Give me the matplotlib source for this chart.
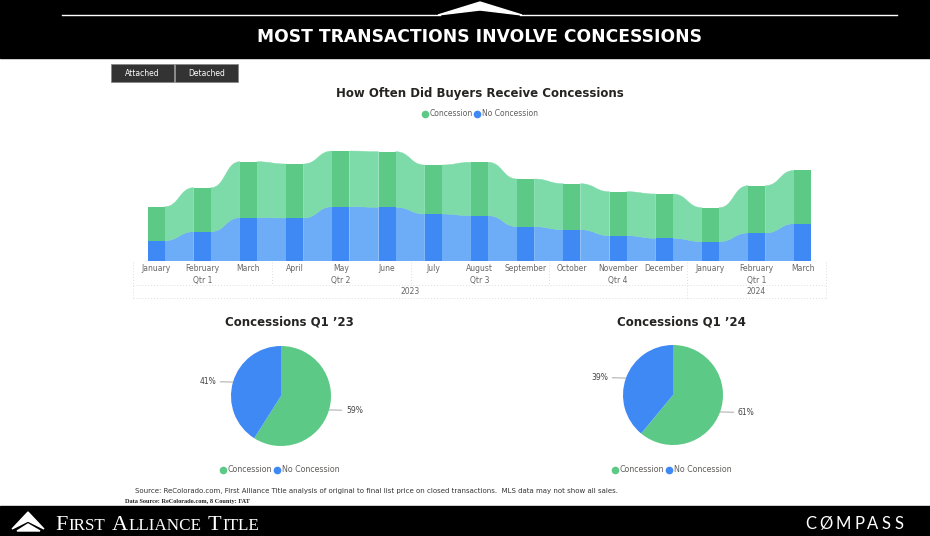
import numpy as np
import matplotlib
matplotlib.use("Agg")
import matplotlib.pyplot as plt
from matplotlib.path import Path
from matplotlib.patches import PathPatch, Polygon, Rectangle
from matplotlib.lines import Line2D

# data (transactions per month, estimated)
months = ["January", "February", "March", "April", "May", "June", "July", "August",
          "September", "October", "November", "December", "January", "February", "March"]
quarters = ["Qtr 1", "Qtr 2", "Qtr 3", "Qtr 4", "Qtr 1"]
years = ["2023", "2024"]
concession = [340, 440, 560, 540, 557, 556, 490, 534, 477, 460, 440, 443, 340, 473, 533]
no_concession = [203, 293, 433, 430, 543, 537, 470, 453, 343, 313, 253, 227, 193, 280, 373]
pie_labels = ["Concession", "No Concession"]
pie_q1_23 = [59, 41]
pie_q1_24 = [61, 39]

GREEN = "#5cc987"
GREEN_R = "#7ddba9"
BLUE = "#3f89f4"
BLUE_R = "#6dacf6"
GRAY = "#666666"

W, H = 930, 536
fig = plt.figure(figsize=(W / 100, H / 100), dpi=100)


def px_axes(x0, y0, x1, y1, **kw):
    # axes placed by pixel box (top-left origin)
    return fig.add_axes([x0 / W, 1 - y1 / H, (x1 - x0) / W, (y1 - y0) / H], **kw)


# overlay for the page decorations
bg = px_axes(0, 0, W, H)
bg.set_xlim(0, W)
bg.set_ylim(H, 0)
bg.axis("off")

bg.add_patch(Rectangle((0, 0), W, 58, color="black"))
bg.add_patch(Rectangle((0, 506), W, 30, color="black"))
bg.plot([62, 440], [14.5, 14.5], color="white", lw=1)
bg.plot([520, 897], [14.5, 14.5], color="white", lw=1)
bg.add_patch(Polygon([[438, 15], [480, 2], [522, 15], [480, 10]], closed=True, color="white"))
bg.text(479, 37, "MOST TRANSACTIONS INVOLVE CONCESSIONS", color="white", fontsize=12.3,
        fontweight="bold", ha="center", va="center")

# buttons
for x0, lab in [(111, "Attached"), (175, "Detached")]:
    bg.add_patch(Rectangle((x0, 64), 63, 18, facecolor="#333333", edgecolor="#888888", lw=0.6))
    bg.text(x0 + 31.5, 73, lab, color="white", fontsize=5.5, ha="center", va="center")

bg.text(480, 94, "How Often Did Buyers Receive Concessions", fontsize=8.5, fontweight="bold",
        color="#252423", ha="center", va="center")

# footer
bg.text(135, 491, "Source: ReColorado.com, First Alliance Title analysis of original to final list price "
        "on closed transactions.  MLS data may not show all sales.", fontsize=5, color="#333333",
        ha="left", va="center")
bg.text(125, 501, "Data Source: ReColorado.com, 8 County: FAT", fontsize=4.5, color="#222222",
        family="Liberation Serif", fontweight="bold", ha="left", va="center")
bg.add_patch(Polygon([[12, 529], [28, 512], [44, 529], [28, 521]], closed=True, color="white"))
bg.add_patch(Polygon([[17, 531], [28, 524], [40, 531]], closed=True, color="white"))

renderer = fig.canvas.get_renderer()
inv = bg.transData.inverted()


def place_run(x0, pieces, y, gap=0.0, **kw):
    # lay text pieces end to end, measuring each one
    xc = x0
    for s, size in pieces:
        t = bg.text(xc, y, s, fontsize=size, va="baseline", ha="left", **kw)
        bb = t.get_window_extent(renderer)
        x_end = inv.transform((bb.x1, bb.y0))[0]
        xc = x_end + gap
    return xc


logo = [("F", 16), ("IRST", 12.3), (" ", 12.3), ("A", 16), ("LLIANCE", 12.3), (" ", 12.3),
        ("T", 16), ("ITLE", 12.3)]
place_run(55, logo, 530.5, gap=1.0, color="white", family="Liberation Serif")
cx = 805
for ch in "C\u00d8MPASS":
    t = bg.text(cx, 529, ch, color="white", fontsize=12, va="baseline", ha="left", family="Lato")
    bb = t.get_window_extent(renderer)
    cx = inv.transform((bb.x1, bb.y0))[0] + 3.2

# ribbon chart
ax = px_axes(133, 140, 826, 261)
x = np.arange(len(months))
bw = 0.37
conc = np.array(concession)
noc = np.array(no_concession)
ax.set_xlim(-0.5, len(months) - 0.5)
ax.set_ylim(0, 1210)
ax.axis("off")


def ribbon(bot, top, color):
    for i in range(len(bot) - 1):
        xa, xb = x[i] + bw / 2, x[i + 1] - bw / 2
        xm = (xa + xb) / 2
        verts = [(xa, bot[i]), (xm, bot[i]), (xm, bot[i + 1]), (xb, bot[i + 1]),
                 (xb, top[i + 1]), (xm, top[i + 1]), (xm, top[i]), (xa, top[i]), (xa, bot[i])]
        codes = [Path.MOVETO, Path.CURVE4, Path.CURVE4, Path.CURVE4, Path.LINETO,
                 Path.CURVE4, Path.CURVE4, Path.CURVE4, Path.CLOSEPOLY]
        ax.add_patch(PathPatch(Path(verts, codes), facecolor=color, edgecolor=color, lw=0.3))


ribbon(np.zeros(len(noc)), noc, BLUE_R)
ribbon(noc, noc + conc, GREEN_R)
ax.bar(x, noc, width=bw, color=BLUE, linewidth=0)
ax.bar(x, conc, width=bw, bottom=noc, color=GREEN, linewidth=0)

# hierarchical axis labels
xpx = 156 + 46.2 * x
for i, m in enumerate(months):
    bg.text(xpx[i], 268.5, m, fontsize=5.5, color=GRAY, ha="center", va="center")
for q, lab in enumerate(quarters):
    bg.text(xpx[3 * q + 1], 280, lab, fontsize=5.5, color=GRAY, ha="center", va="center")
bg.text(xpx[:12].mean(), 292, years[0], fontsize=5.5, color=GRAY, ha="center", va="center")
bg.text(xpx[12:].mean(), 292, years[1], fontsize=5.5, color=GRAY, ha="center", va="center")
dot = dict(color="#dddddd", lw=0.7, ls=(0, (1, 2)))
bg.plot([133, 826], [285, 285], **dot)
bg.plot([133, 826], [298, 298], **dot)
for bx in [133, 687, 826]:
    bg.plot([bx, bx], [262, 299], **dot)
for bx in [272, 411, 549]:
    bg.plot([bx, bx], [262, 285], **dot)

handles = [Line2D([], [], marker="o", ls="", color=c, markersize=4.5) for c in (GREEN, BLUE)]
leg_kw = dict(loc="center", bbox_transform=fig.transFigure, ncol=2, frameon=False,
              handlelength=0.7, handletextpad=0.2, columnspacing=0.3, labelcolor="#605e5c")


# pies
def draw_pie(cx, cy, vals, title, legx):
    pa = px_axes(cx - 62.5, cy - 62.5, cx + 62.5, cy + 62.5)
    wedges, _ = pa.pie(vals, colors=[GREEN, BLUE], startangle=90, counterclock=False)
    pa.set_xlim(-1.25, 1.25)
    pa.set_ylim(-1.25, 1.25)
    for w, v in zip(wedges, vals):
        ang = np.deg2rad((w.theta1 + w.theta2) / 2)
        cxw, syw = np.cos(ang), np.sin(ang)
        side = np.sign(cxw)
        pa.annotate(f"{v}%", xy=(1.0 * cxw, 1.0 * syw), xytext=(1.3 * side, 1.03 * syw),
                    fontsize=5.5, color="#444444", ha="left" if side > 0 else "right",
                    va="center", annotation_clip=False,
                    arrowprops=dict(arrowstyle="-", color="#999999", lw=0.6,
                                    shrinkA=1, shrinkB=0))
    bg.text(cx + 8, 322, title, fontsize=8.5, fontweight="bold", color="#252423",
            ha="center", va="center")
    leg = bg.legend(handles, pie_labels, bbox_to_anchor=(legx / W, 1 - 470 / H), fontsize=5.7,
                    **leg_kw)
    bg.add_artist(leg)


draw_pie(281, 396, pie_q1_23, "Concessions Q1 \u201923", 280)
draw_pie(673, 395, pie_q1_24, "Concessions Q1 \u201924", 672)
bg.legend(handles, pie_labels, bbox_to_anchor=(480 / W, 1 - 114 / H), fontsize=5.5, **leg_kw)

fig.savefig("out.png", dpi=100)
